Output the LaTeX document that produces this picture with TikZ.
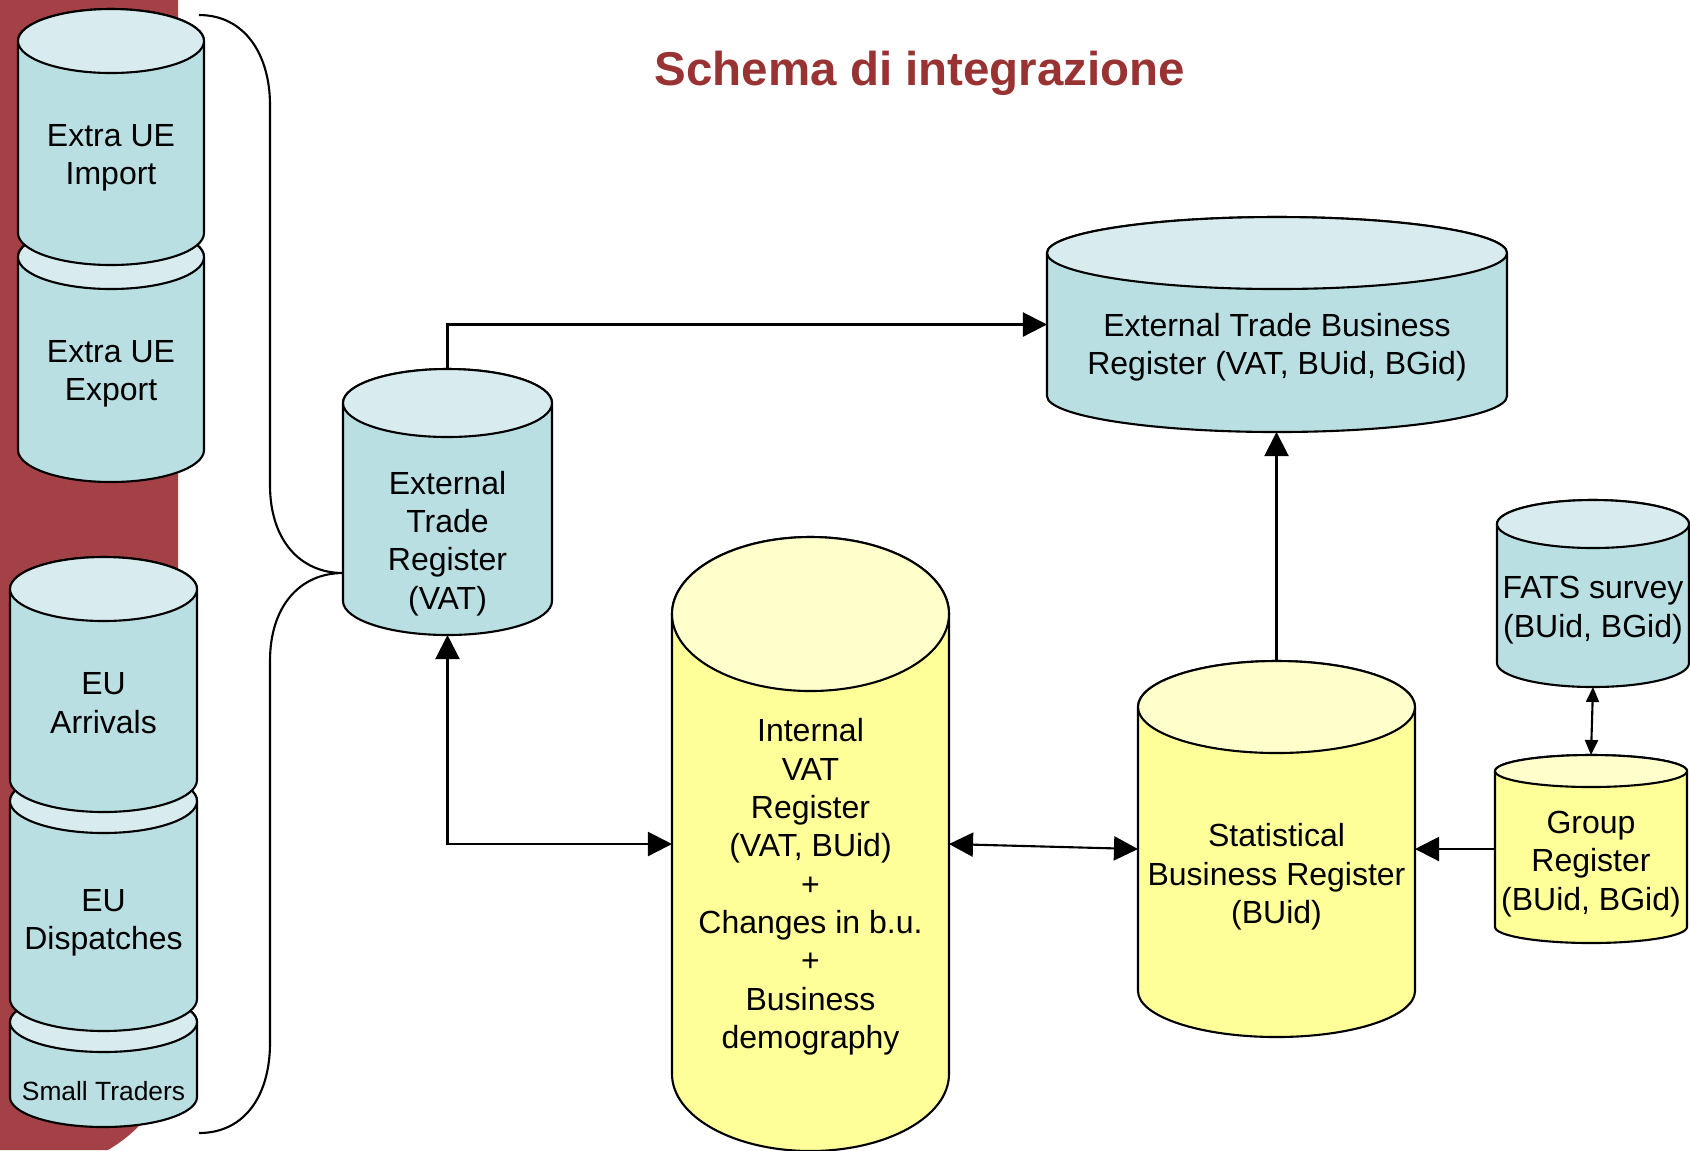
\documentclass[tikz,border=0pt]{standalone}
\usepackage{fontspec}
\setmainfont{Liberation Sans}
\usetikzlibrary{arrows.meta}

\definecolor{bandred}{RGB}{164,65,70}
\definecolor{titlered}{RGB}{153,51,51}
\definecolor{dbblue}{RGB}{185,223,227}
\definecolor{dbbluetop}{RGB}{216,236,239}
\definecolor{dbyellow}{RGB}{255,255,153}
\definecolor{dbyellowtop}{RGB}{255,255,204}

% database drum: #1 name, #2 centre x, #3 top, #4 bottom, #5 half width,
% #6 radius of the ends, #7 colour, #8 text y, #9 text
\newcommand\drum[9]{%
    \filldraw[fill=#7] (#2-#5,#4-#6) arc[start angle=180, end angle=0, x radius=#5, y radius=#6]
        -- (#2+#5,#3+#6) arc[start angle=0, end angle=-180, x radius=#5, y radius=#6] -- cycle;
    \filldraw[fill=#7top] (#2,#3+#6) ellipse[x radius=#5, y radius=#6];
    \node[dbbox, minimum width=2*#5*0.01cm, minimum height=(#4-#3)*0.01cm] (#1) at (#2,{(#3+#4)/2}) {};
    \node[dbtext] (#1-text) at (#2,#8) {#9};
}

\begin{document}
\begin{tikzpicture}[
        x=0.01cm, y=-0.01cm,
        >={Triangle[length=0.24cm, width=0.24cm]},
        line width=0.6pt,
        dbbox/.style={rectangle, inner sep=0pt, outer sep=0pt},
        dbtext/.style={align=center, inner sep=0pt, font=\fontsize{9.1}{10.9}\selectfont},
        title/.style={font=\fontsize{13.5}{16}\selectfont\bfseries, text=titlered}
    ]
    \useasboundingbox (0,0) rectangle (1690,1150);

    % Red band on the left
    \fill[bandred] (0,0) -- (178,0) -- (178,1020) .. controls (178,1085) and (150,1125) .. (108,1150) -- (0,1150) -- cycle;

    % Title
    \node[title] (title) at (920,73) {Schema di integrazione};

    % Extra UE sources (lower one first, the upper one covers its top)
    \drum{exp}{111}{225}{482}{93}{32}{dbblue}{374}{Extra UE\\Export}
    \drum{imp}{111}{9}{265}{93}{32}{dbblue}{158}{Extra UE\\Import}

    % EU sources
    \drum{small}{103.5}{992}{1127}{93.5}{30}{dbblue}{1091}{\fontsize{7.5}{9}\selectfont Small Traders}
    \drum{dsp}{103.5}{769}{1031}{93.5}{32}{dbblue}{923}{EU\\Dispatches}
    \drum{arr}{103.5}{557}{812}{93.5}{32}{dbblue}{703}{EU\\Arrivals}

    % Registers
    \drum{etr}{447.5}{369}{635}{104.5}{34}{dbblue}{543.5}{External\\Trade\\Register\\(VAT)}
    \drum{etbr}{1277}{217}{432}{230}{36}{dbblue}{347.5}{External Trade Business\\Register (VAT, BUid, BGid)}
    \drum{ivr}{810.5}{537}{1151}{138.5}{77}{dbyellow}{887}{Internal\\VAT\\Register\\(VAT, BUid)\\+\\Changes in b.u.\\+\\Business\\demography}
    \drum{sbr}{1276.5}{661}{1037}{138.5}{46}{dbyellow}{877}{Statistical\\Business Register\\(BUid)}
    \drum{fats}{1593}{500}{687}{96}{24}{dbblue}{610}{FATS survey\\(BUid, BGid)}
    \drum{grp}{1591}{755}{943}{96}{16}{dbyellow}{864}{Group\\Register\\(BUid, BGid)}

    % Brace gathering the sources
    \coordinate (tip) at (343,573);
    \draw (199,15) .. controls (245,15) and (270,55) .. (270,105) -- (270,485)
        .. controls (270,540) and (300,573) .. (tip)
        .. controls (300,573) and (270,606) .. (270,661) -- (270,1043)
        .. controls (270,1095) and (245,1133) .. (199,1133);

    % Arrows
    \draw[->] (etr.north) |- (etbr.west);
    \draw[->] (sbr.north) -- (sbr.north |- etbr.south);
    \draw[<->] (etr.south) |- (ivr.west);
    \draw[<->] (ivr.east) -- (sbr.west);
    \draw[->] (grp.west) -- (sbr.east);
    \draw[>={Triangle[length=0.15cm, width=0.13cm]}, <->] (fats.south) -- (grp.north);
\end{tikzpicture}
\end{document}
